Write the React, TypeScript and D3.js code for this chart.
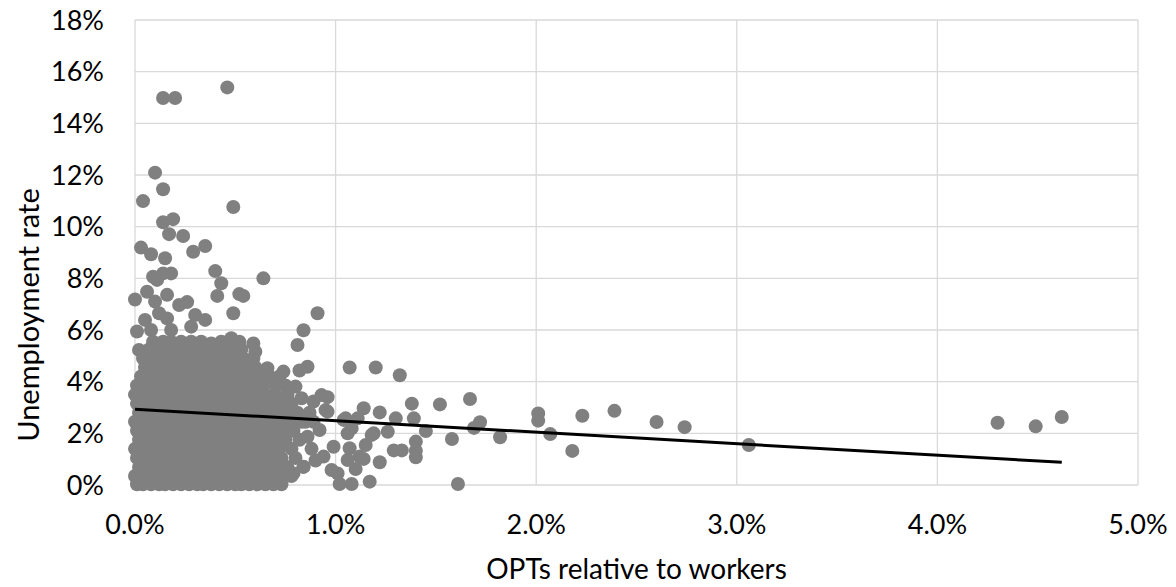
import React from "react";
import * as d3 from "d3";

// values in percent: [OPTs relative to workers, unemployment rate]
const upperOutliers: [number, number][] = [
  [0.14, 14.98], [0.2, 14.98], [0.46, 15.39], [0.1, 12.09], [0.14, 11.45], [0.04, 10.99],
  [0.49, 10.76], [0.19, 10.29], [0.14, 10.17], [0.17, 9.71], [0.24, 9.64], [0.35, 9.25],
  [0.29, 9.03], [0.03, 9.19], [0.08, 8.93], [0.15, 8.78], [0.4, 8.28], [0.43, 7.81],
  [0.64, 8.0], [0.52, 7.39], [0.54, 7.32], [0.41, 7.32], [0.0, 7.18], [0.06, 7.48],
  [0.16, 7.36], [0.09, 8.06], [0.14, 8.19], [0.18, 8.19], [0.11, 7.94], [0.1, 7.1],
  [0.22, 6.97], [0.26, 7.08], [0.12, 6.65], [0.16, 6.45], [0.05, 6.39], [0.3, 6.58],
  [0.35, 6.39], [0.49, 6.65], [0.91, 6.65], [0.84, 5.99], [0.81, 5.42], [0.86, 4.58],
  [0.82, 4.43], [1.07, 4.55], [1.2, 4.55], [1.32, 4.25], [0.01, 5.94], [0.08, 6.0],
  [0.18, 6.0], [0.28, 6.13], [0.02, 5.23], [0.43, 5.55], [0.48, 5.68], [0.52, 5.55],
  [0.59, 5.48], [0.6, 5.16], [0.38, 5.48], [0.66, 4.52], [0.74, 4.39],
];

const clusterRows: { y: number; xs: number[] }[] = [
  { y: 0.03, xs: [0.01, 0.04, 0.08, 0.12, 0.15, 0.19, 0.23, 0.27, 0.31, 0.34, 0.38, 0.42, 0.46, 0.5, 0.53, 0.57, 0.61, 0.65, 0.69, 0.73] },
  { y: 0.35, xs: [0.0, 0.05, 0.1, 0.14, 0.18, 0.22, 0.27, 0.31, 0.35, 0.4, 0.44, 0.49, 0.54, 0.58, 0.63, 0.68, 0.72, 0.78] },
  { y: 0.7, xs: [0.02, 0.06, 0.11, 0.15, 0.2, 0.24, 0.29, 0.33, 0.37, 0.42, 0.47, 0.51, 0.56, 0.6, 0.65, 0.7, 0.76, 0.84] },
  { y: 1.05, xs: [0.01, 0.05, 0.09, 0.13, 0.18, 0.22, 0.26, 0.31, 0.36, 0.4, 0.45, 0.5, 0.55, 0.59, 0.64, 0.69, 0.73, 0.8] },
  { y: 1.4, xs: [0.0, 0.04, 0.08, 0.12, 0.16, 0.21, 0.25, 0.3, 0.34, 0.39, 0.43, 0.48, 0.52, 0.57, 0.62, 0.67, 0.72, 0.78] },
  { y: 1.75, xs: [0.02, 0.06, 0.1, 0.15, 0.19, 0.23, 0.28, 0.32, 0.37, 0.41, 0.46, 0.51, 0.55, 0.6, 0.66, 0.7, 0.75, 0.82] },
  { y: 2.1, xs: [0.01, 0.05, 0.09, 0.13, 0.17, 0.22, 0.26, 0.31, 0.35, 0.39, 0.44, 0.49, 0.54, 0.58, 0.63, 0.68, 0.74, 0.79] },
  { y: 2.45, xs: [0.0, 0.04, 0.08, 0.12, 0.16, 0.2, 0.25, 0.29, 0.33, 0.38, 0.42, 0.47, 0.52, 0.57, 0.61, 0.66, 0.71, 0.77, 0.83, 0.89] },
  { y: 2.8, xs: [0.02, 0.06, 0.1, 0.14, 0.19, 0.23, 0.27, 0.32, 0.36, 0.41, 0.45, 0.5, 0.55, 0.59, 0.64, 0.69, 0.75, 0.81, 0.87] },
  { y: 3.15, xs: [0.01, 0.05, 0.09, 0.13, 0.18, 0.22, 0.26, 0.3, 0.35, 0.4, 0.44, 0.48, 0.53, 0.58, 0.62, 0.67, 0.72, 0.78] },
  { y: 3.5, xs: [0.0, 0.04, 0.08, 0.12, 0.17, 0.21, 0.25, 0.29, 0.34, 0.38, 0.43, 0.47, 0.52, 0.56, 0.61, 0.65, 0.7, 0.76] },
  { y: 3.85, xs: [0.01, 0.06, 0.1, 0.14, 0.19, 0.23, 0.28, 0.32, 0.37, 0.41, 0.46, 0.5, 0.55, 0.6, 0.64, 0.7, 0.75] },
  { y: 4.2, xs: [0.03, 0.07, 0.11, 0.16, 0.2, 0.25, 0.29, 0.34, 0.38, 0.43, 0.47, 0.52, 0.57, 0.62, 0.67, 0.72] },
  { y: 4.55, xs: [0.05, 0.09, 0.13, 0.18, 0.22, 0.27, 0.31, 0.36, 0.4, 0.45, 0.5, 0.55, 0.6] },
  { y: 4.9, xs: [0.04, 0.08, 0.12, 0.17, 0.21, 0.26, 0.3, 0.35, 0.4, 0.44, 0.49, 0.54, 0.59] },
  { y: 5.25, xs: [0.07, 0.11, 0.15, 0.2, 0.24, 0.29, 0.33, 0.38, 0.43, 0.48, 0.53] },
  { y: 5.55, xs: [0.09, 0.14, 0.18, 0.23, 0.28, 0.33] },
];

const midPoints: [number, number][] = [
  [0.93, 3.48], [0.96, 3.4], [1.14, 2.97], [1.22, 2.81], [1.3, 2.58], [1.38, 3.15],
  [1.39, 2.58], [1.05, 2.58], [0.96, 2.84], [1.18, 1.94], [1.26, 2.06], [1.15, 1.55],
  [1.07, 1.42], [1.29, 1.34], [1.33, 1.34], [1.4, 1.68], [1.4, 1.33], [1.4, 1.07],
  [0.94, 1.1], [1.14, 1.01], [1.22, 0.88], [1.06, 0.97], [1.1, 0.62], [0.98, 0.58],
  [1.01, 0.45], [1.02, 0.04], [1.08, 0.04], [1.17, 0.13], [1.06, 2.0], [1.04, 2.52],
  [1.11, 2.58], [1.08, 2.19], [0.99, 1.48], [0.92, 2.13], [0.86, 1.87], [0.84, 0.71],
  [0.79, 0.45], [0.95, 2.9], [0.89, 3.23], [0.83, 3.36], [0.8, 3.81], [1.12, 1.1],
  [1.19, 2.0], [1.45, 2.09], [0.88, 1.4], [0.85, 2.45], [0.9, 0.95],
];

const farPoints: [number, number][] = [
  [1.52, 3.12], [1.67, 3.33], [1.72, 2.43], [1.69, 2.21], [1.58, 1.78], [1.82, 1.85],
  [1.61, 0.04], [2.01, 2.77], [2.01, 2.49], [2.07, 1.97], [2.18, 1.32], [2.23, 2.68],
  [2.39, 2.87], [2.6, 2.44], [2.74, 2.24], [3.06, 1.55], [4.3, 2.41], [4.49, 2.27],
  [4.62, 2.63],
];

const trendX = [0, 4.62];
const trendY = [2.93, 0.88];

const xTicks = [0, 1, 2, 3, 4, 5];
const yTicks = [0, 2, 4, 6, 8, 10, 12, 14, 16, 18];

const xTitle = "OPTs relative to workers";
const yTitle = "Unemployment rate";

export default function App() {
  const W = 1176;
  const H = 587;
  const x = d3.scaleLinear().domain([0, 5]).range([135, 1138]);
  const y = d3.scaleLinear().domain([0, 18]).range([485, 20]);

  const clusterPts: [number, number][] = [];
  clusterRows.forEach((r) => r.xs.forEach((v) => clusterPts.push([v, r.y])));
  const points: [number, number][] = [...clusterPts, ...midPoints, ...upperOutliers, ...farPoints];

  const line = d3
    .line<number>()
    .x((_, i) => x(trendX[i]))
    .y((_, i) => y(trendY[i]));

  const font = "Lato, 'Open Sans', sans-serif";
  const grid = "#d9d9d9";

  return (
    <svg
      width={W}
      height={H}
      style={{ position: "absolute", left: 0, top: 0, background: "#fff" }}
      fontFamily={font}
    >
      {yTicks.map((t) => (
        <line key={"gy" + t} x1={x(0)} x2={x(5)} y1={y(t)} y2={y(t)} stroke={grid} strokeWidth={1.3} />
      ))}
      {xTicks.map((t) => (
        <line key={"gx" + t} x1={x(t)} x2={x(t)} y1={y(0)} y2={y(18)} stroke={grid} strokeWidth={1.3} />
      ))}
      {points.map((p, i) => (
        <circle key={i} cx={x(p[0])} cy={y(p[1])} r={7} fill="#808080" />
      ))}
      <path d={line(trendX) || ""} stroke="#000" strokeWidth={3} fill="none" />
      {yTicks.map((t) => (
        <text key={"ty" + t} x={104} y={y(t)} dy="0.36em" textAnchor="end" fontSize={27} fill="#000">
          {t}%
        </text>
      ))}
      {xTicks.map((t) => (
        <text key={"tx" + t} x={x(t)} y={524} dy="0.36em" textAnchor="middle" fontSize={27} fill="#000">
          {d3.format(".1f")(t)}%
        </text>
      ))}
      <text x={(x(0) + x(5)) / 2} y={569} dy="0.36em" textAnchor="middle" fontSize={28} fill="#000">
        {xTitle}
      </text>
      <text
        transform={`translate(29,${315}) rotate(-90)`}
        dy="0.36em"
        textAnchor="middle"
        fontSize={29}
        fill="#000"
      >
        {yTitle}
      </text>
    </svg>
  );
}
